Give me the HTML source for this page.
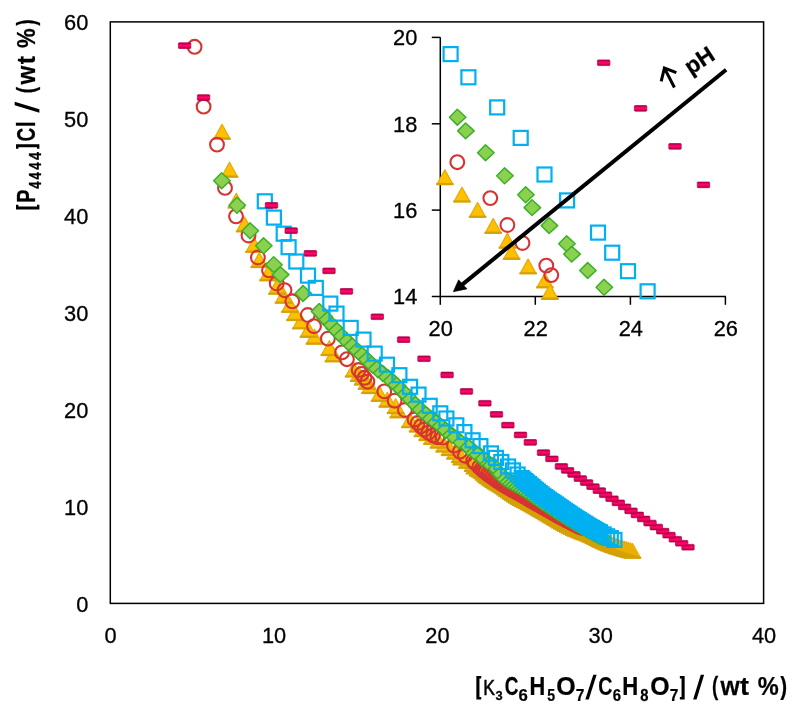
<!DOCTYPE html>
<html><head><meta charset="utf-8"><title>Binodal curves</title>
<style>
html,body{margin:0;padding:0;background:#fff;}
body{width:800px;height:716px;overflow:hidden;font-family:"Liberation Sans",sans-serif;}
svg{display:block;will-change:transform;}
text{font-family:"Liberation Sans",sans-serif;fill:#000;}
.tb{stroke:#D4A106;stroke-width:2.1;fill:none;stroke-linecap:butt;}
</style></head><body>
<svg width="800" height="716" viewBox="0 0 800 716">
<rect x="0" y="0" width="800" height="716" fill="#fff"/>
<defs><linearGradient id="dg" x1="0" y1="0" x2="0" y2="1"><stop offset="0" stop-color="#A2003A"/><stop offset="0.3" stop-color="#EC0060"/><stop offset="0.5" stop-color="#FF0870"/><stop offset="0.7" stop-color="#EC0060"/><stop offset="1" stop-color="#9C0036"/></linearGradient></defs>

<rect x="110.3" y="21.9" width="653.3" height="581.5" fill="none" stroke="#000" stroke-width="1.5"/>
<g font-size="21.8" text-anchor="end" stroke="#000" stroke-width="0.3">
<text x="88.3" y="611.6">0</text>
<text x="88.3" y="514.7">10</text>
<text x="88.3" y="417.8">20</text>
<text x="88.3" y="320.9">30</text>
<text x="88.3" y="223.9">40</text>
<text x="88.3" y="127.0">50</text>
<text x="88.3" y="30.1">60</text>
</g>
<g font-size="21.8" text-anchor="middle" stroke="#000" stroke-width="0.3">
<text x="110.6" y="642.6">0</text>
<text x="274.0" y="642.6">10</text>
<text x="437.4" y="642.6">20</text>
<text x="600.7" y="642.6">30</text>
<text x="764.1" y="642.6">40</text>
</g>
<g id="main"><g fill="#FFC000" stroke="#E6AC06" stroke-width="1.3" stroke-linejoin="round">
<path d="M632.5 543.5L640.0 557.1L625.0 557.1Z"/><path class="tb" d="M623.7 557.8H641.3"/>
<path d="M630.5 543.0L638.0 556.6L623.0 556.6Z"/><path class="tb" d="M621.7 557.3H639.3"/>
<path d="M628.6 542.5L636.1 556.1L621.1 556.1Z"/><path class="tb" d="M619.8 556.8H637.4"/>
<path d="M626.6 541.9L634.1 555.5L619.1 555.5Z"/><path class="tb" d="M617.8 556.3H635.4"/>
<path d="M624.6 541.4L632.1 555.0L617.1 555.0Z"/><path class="tb" d="M615.8 555.7H633.4"/>
<path d="M622.7 540.8L630.2 554.4L615.2 554.4Z"/><path class="tb" d="M613.9 555.1H631.5"/>
<path d="M620.7 540.2L628.2 553.8L613.2 553.8Z"/><path class="tb" d="M611.9 554.5H629.5"/>
<path d="M618.7 539.6L626.2 553.2L611.2 553.2Z"/><path class="tb" d="M609.9 553.9H627.5"/>
<path d="M616.8 538.9L624.3 552.5L609.3 552.5Z"/><path class="tb" d="M608.0 553.3H625.6"/>
<path d="M614.8 538.2L622.3 551.8L607.3 551.8Z"/><path class="tb" d="M606.0 552.6H623.6"/>
<path d="M612.9 537.6L620.4 551.2L605.4 551.2Z"/><path class="tb" d="M604.1 551.9H621.7"/>
<path d="M610.9 536.8L618.4 550.4L603.4 550.4Z"/><path class="tb" d="M602.1 551.2H619.7"/>
<path d="M608.9 536.1L616.4 549.7L601.4 549.7Z"/><path class="tb" d="M600.1 550.4H617.7"/>
<path d="M607.0 535.3L614.5 548.9L599.5 548.9Z"/><path class="tb" d="M598.2 549.6H615.8"/>
<path d="M605.0 534.4L612.5 548.0L597.5 548.0Z"/><path class="tb" d="M596.2 548.7H613.8"/>
<path d="M603.1 533.5L610.6 547.1L595.6 547.1Z"/><path class="tb" d="M594.3 547.8H611.9"/>
<path d="M601.1 532.5L608.6 546.1L593.6 546.1Z"/><path class="tb" d="M592.3 546.9H609.9"/>
<path d="M599.1 531.5L606.6 545.1L591.6 545.1Z"/><path class="tb" d="M590.3 545.9H607.9"/>
<path d="M597.2 530.6L604.7 544.2L589.7 544.2Z"/><path class="tb" d="M588.4 544.9H606.0"/>
<path d="M595.2 529.6L602.7 543.2L587.7 543.2Z"/><path class="tb" d="M586.4 543.9H604.0"/>
<path d="M593.3 528.6L600.8 542.2L585.8 542.2Z"/><path class="tb" d="M584.5 543.0H602.1"/>
<path d="M591.3 527.7L598.8 541.3L583.8 541.3Z"/><path class="tb" d="M582.5 542.0H600.1"/>
<path d="M589.3 526.8L596.8 540.4L581.8 540.4Z"/><path class="tb" d="M580.5 541.2H598.1"/>
<path d="M587.4 526.0L594.9 539.6L579.9 539.6Z"/><path class="tb" d="M578.6 540.3H596.2"/>
<path d="M585.4 525.2L592.9 538.8L577.9 538.8Z"/><path class="tb" d="M576.6 539.6H594.2"/>
<path d="M583.5 524.5L591.0 538.1L576.0 538.1Z"/><path class="tb" d="M574.7 538.8H592.3"/>
<path d="M581.5 523.7L589.0 537.3L574.0 537.3Z"/><path class="tb" d="M572.7 538.1H590.3"/>
<path d="M579.5 523.0L587.0 536.6L572.0 536.6Z"/><path class="tb" d="M570.7 537.3H588.3"/>
<path d="M577.6 522.2L585.1 535.8L570.1 535.8Z"/><path class="tb" d="M568.8 536.5H586.4"/>
<path d="M575.6 521.3L583.1 534.9L568.1 534.9Z"/><path class="tb" d="M566.8 535.7H584.4"/>
<path d="M573.7 520.4L581.2 534.0L566.2 534.0Z"/><path class="tb" d="M564.9 534.8H582.5"/>
<path d="M571.7 519.5L579.2 533.1L564.2 533.1Z"/><path class="tb" d="M562.9 533.8H580.5"/>
<path d="M569.7 518.5L577.2 532.1L562.2 532.1Z"/><path class="tb" d="M560.9 532.8H578.5"/>
<path d="M567.8 517.5L575.3 531.1L560.3 531.1Z"/><path class="tb" d="M559.0 531.8H576.6"/>
<path d="M565.8 516.4L573.3 530.0L558.3 530.0Z"/><path class="tb" d="M557.0 530.8H574.6"/>
<path d="M563.9 515.4L571.4 529.0L556.4 529.0Z"/><path class="tb" d="M555.1 529.7H572.7"/>
<path d="M561.9 514.2L569.4 527.8L554.4 527.8Z"/><path class="tb" d="M553.1 528.6H570.7"/>
<path d="M559.9 513.1L567.4 526.7L552.4 526.7Z"/><path class="tb" d="M551.1 527.5H568.7"/>
<path d="M558.0 511.9L565.5 525.5L550.5 525.5Z"/><path class="tb" d="M549.2 526.3H566.8"/>
<path d="M556.0 510.8L563.5 524.4L548.5 524.4Z"/><path class="tb" d="M547.2 525.1H564.8"/>
<path d="M554.1 509.6L561.6 523.2L546.6 523.2Z"/><path class="tb" d="M545.3 523.9H562.9"/>
<path d="M552.1 508.4L559.6 522.0L544.6 522.0Z"/><path class="tb" d="M543.3 522.8H560.9"/>
<path d="M550.1 507.3L557.6 520.9L542.6 520.9Z"/><path class="tb" d="M541.3 521.6H558.9"/>
<path d="M548.2 506.1L555.7 519.7L540.7 519.7Z"/><path class="tb" d="M539.4 520.4H557.0"/>
<path d="M546.2 504.9L553.7 518.5L538.7 518.5Z"/><path class="tb" d="M537.4 519.3H555.0"/>
<path d="M544.3 503.8L551.8 517.4L536.8 517.4Z"/><path class="tb" d="M535.5 518.1H553.1"/>
<path d="M542.3 502.6L549.8 516.2L534.8 516.2Z"/><path class="tb" d="M533.5 517.0H551.1"/>
<path d="M540.3 501.5L547.8 515.1L532.8 515.1Z"/><path class="tb" d="M531.5 515.8H549.1"/>
<path d="M538.4 500.3L545.9 513.9L530.9 513.9Z"/><path class="tb" d="M529.6 514.7H547.2"/>
<path d="M536.4 499.2L543.9 512.8L528.9 512.8Z"/><path class="tb" d="M527.6 513.5H545.2"/>
<path d="M534.4 498.0L541.9 511.6L526.9 511.6Z"/><path class="tb" d="M525.6 512.4H543.2"/>
<path d="M532.5 496.9L540.0 510.5L525.0 510.5Z"/><path class="tb" d="M523.7 511.3H541.3"/>
<path d="M530.5 495.8L538.0 509.4L523.0 509.4Z"/><path class="tb" d="M521.7 510.2H539.3"/>
<path d="M528.6 494.8L536.1 508.4L521.1 508.4Z"/><path class="tb" d="M519.8 509.2H537.4"/>
<path d="M526.6 493.8L534.1 507.4L519.1 507.4Z"/><path class="tb" d="M517.8 508.1H535.4"/>
<path d="M524.6 492.8L532.1 506.4L517.1 506.4Z"/><path class="tb" d="M515.8 507.1H533.4"/>
<path d="M522.7 491.8L530.2 505.4L515.2 505.4Z"/><path class="tb" d="M513.9 506.1H531.5"/>
<path d="M520.7 490.7L528.2 504.3L513.2 504.3Z"/><path class="tb" d="M511.9 505.0H529.5"/>
<path d="M518.8 489.5L526.3 503.1L511.3 503.1Z"/><path class="tb" d="M510.0 503.9H527.6"/>
<path d="M516.8 488.3L524.3 501.9L509.3 501.9Z"/><path class="tb" d="M508.0 502.7H525.6"/>
<path d="M514.8 487.1L522.3 500.7L507.3 500.7Z"/><path class="tb" d="M506.0 501.4H523.6"/>
<path d="M512.9 485.8L520.4 499.4L505.4 499.4Z"/><path class="tb" d="M504.1 500.1H521.7"/>
<path d="M510.9 484.4L518.4 498.0L503.4 498.0Z"/><path class="tb" d="M502.1 498.8H519.7"/>
<path d="M509.0 483.1L516.5 496.7L501.5 496.7Z"/><path class="tb" d="M500.2 497.4H517.8"/>
<path d="M507.0 481.7L514.5 495.3L499.5 495.3Z"/><path class="tb" d="M498.2 496.0H515.8"/>
<path d="M505.0 480.2L512.5 493.8L497.5 493.8Z"/><path class="tb" d="M496.2 494.5H513.8"/>
<path d="M503.1 478.7L510.6 492.3L495.6 492.3Z"/><path class="tb" d="M494.3 493.1H511.9"/>
<path d="M501.1 477.5L508.6 491.1L493.6 491.1Z"/><path class="tb" d="M492.3 491.8H509.9"/>
<path d="M499.2 476.3L506.7 489.9L491.7 489.9Z"/><path class="tb" d="M490.4 490.6H508.0"/>
<path d="M497.2 475.1L504.7 488.7L489.7 488.7Z"/><path class="tb" d="M488.4 489.5H506.0"/>
<path d="M495.2 473.9L502.7 487.5L487.7 487.5Z"/><path class="tb" d="M486.4 488.3H504.0"/>
<path d="M493.3 472.6L500.8 486.2L485.8 486.2Z"/><path class="tb" d="M484.5 487.0H502.1"/>
<path d="M491.3 471.4L498.8 485.0L483.8 485.0Z"/><path class="tb" d="M482.5 485.7H500.1"/>
<path d="M489.4 470.1L496.9 483.7L481.9 483.7Z"/><path class="tb" d="M480.6 484.4H498.2"/>
<path d="M487.4 468.7L494.9 482.3L479.9 482.3Z"/><path class="tb" d="M478.6 483.0H496.2"/>
<path d="M485.4 467.1L492.9 480.7L477.9 480.7Z"/><path class="tb" d="M476.6 481.5H494.2"/>
<path d="M483.5 465.3L491.0 478.9L476.0 478.9Z"/><path class="tb" d="M474.7 479.6H492.3"/>
<path d="M481.5 463.5L489.0 477.1L474.0 477.1Z"/><path class="tb" d="M472.7 477.8H490.3"/>
<path d="M479.6 462.2L487.1 475.8L472.1 475.8Z"/><path class="tb" d="M470.8 476.5H488.4"/>
<path d="M477.6 461.2L485.1 474.8L470.1 474.8Z"/><path class="tb" d="M468.8 475.5H486.4"/>
<path d="M474.5 459.1L482.0 472.7L467.0 472.7Z"/><path class="tb" d="M465.7 473.5H483.3"/>
<path d="M472.7 456.6L480.2 470.2L465.2 470.2Z"/><path class="tb" d="M463.9 470.9H481.5"/>
<path d="M467.0 453.4L474.5 467.0L459.5 467.0Z"/><path class="tb" d="M458.2 467.8H475.8"/>
<path d="M461.3 450.2L468.8 463.8L453.8 463.8Z"/><path class="tb" d="M452.5 464.5H470.1"/>
<path d="M459.9 447.6L467.4 461.2L452.4 461.2Z"/><path class="tb" d="M451.1 462.0H468.7"/>
<path d="M455.0 444.3L462.5 457.9L447.5 457.9Z"/><path class="tb" d="M446.2 458.7H463.8"/>
<path d="M449.6 440.7L457.1 454.3L442.1 454.3Z"/><path class="tb" d="M440.8 455.1H458.4"/>
<path d="M444.2 437.3L451.7 450.9L436.7 450.9Z"/><path class="tb" d="M435.4 451.6H453.0"/>
<path d="M438.4 433.4L445.9 447.0L430.9 447.0Z"/><path class="tb" d="M429.6 447.7H447.2"/>
<path d="M432.0 429.6L439.5 443.2L424.5 443.2Z"/><path class="tb" d="M423.2 443.9H440.8"/>
<path d="M427.2 425.7L434.7 439.3L419.7 439.3Z"/><path class="tb" d="M418.4 440.1H436.0"/>
<path d="M422.5 421.9L430.0 435.5L415.0 435.5Z"/><path class="tb" d="M413.7 436.2H431.3"/>
<path d="M417.6 417.3L425.1 430.9L410.1 430.9Z"/><path class="tb" d="M408.8 431.6H426.4"/>
<path d="M409.9 412.9L417.4 426.5L402.4 426.5Z"/><path class="tb" d="M401.1 427.2H418.7"/>
<path d="M398.2 403.1L405.7 416.7L390.7 416.7Z"/><path class="tb" d="M389.4 417.4H407.0"/>
<path d="M395.6 398.7L403.1 412.3L388.1 412.3Z"/><path class="tb" d="M386.8 413.1H404.4"/>
<path d="M387.3 392.4L394.8 406.0L379.8 406.0Z"/><path class="tb" d="M378.5 406.8H396.1"/>
<path d="M379.6 386.5L387.1 400.1L372.1 400.1Z"/><path class="tb" d="M370.8 400.9H388.4"/>
<path d="M370.0 378.8L377.5 392.4L362.5 392.4Z"/><path class="tb" d="M361.2 393.1H378.8"/>
<path d="M366.5 374.6L374.0 388.2L359.0 388.2Z"/><path class="tb" d="M357.7 388.9H375.3"/>
<path d="M362.6 370.2L370.1 383.8L355.1 383.8Z"/><path class="tb" d="M353.8 384.6H371.4"/>
<path d="M358.7 366.6L366.2 380.2L351.2 380.2Z"/><path class="tb" d="M349.9 380.9H367.5"/>
<path d="M353.6 362.2L361.1 375.8L346.1 375.8Z"/><path class="tb" d="M344.8 376.6H362.4"/>
<path d="M333.4 347.0L340.9 360.6L325.9 360.6Z"/><path class="tb" d="M324.6 361.4H342.2"/>
<path d="M329.3 340.7L336.8 354.3L321.8 354.3Z"/><path class="tb" d="M320.5 355.1H338.1"/>
<path d="M314.4 329.4L321.9 343.0L306.9 343.0Z"/><path class="tb" d="M305.6 343.8H323.2"/>
<path d="M308.5 322.5L316.0 336.1L301.0 336.1Z"/><path class="tb" d="M299.7 336.9H317.3"/>
<path d="M300.9 314.1L308.4 327.7L293.4 327.7Z"/><path class="tb" d="M292.1 328.4H309.7"/>
<path d="M295.0 305.8L302.5 319.4L287.5 319.4Z"/><path class="tb" d="M286.2 320.1H303.8"/>
<path d="M289.9 297.5L297.4 311.1L282.4 311.1Z"/><path class="tb" d="M281.1 311.9H298.7"/>
<path d="M283.5 288.4L291.0 302.0L276.0 302.0Z"/><path class="tb" d="M274.7 302.8H292.3"/>
<path d="M277.0 279.4L284.5 293.0L269.5 293.0Z"/><path class="tb" d="M268.2 293.8H285.8"/>
<path d="M268.0 266.1L275.5 279.7L260.5 279.7Z"/><path class="tb" d="M259.2 280.4H276.8"/>
<path d="M259.3 252.7L266.8 266.3L251.8 266.3Z"/><path class="tb" d="M250.5 267.1H268.1"/>
<path d="M254.0 237.6L261.5 251.2L246.5 251.2Z"/><path class="tb" d="M245.2 251.9H262.8"/>
<path d="M244.6 217.0L252.1 230.6L237.1 230.6Z"/><path class="tb" d="M235.8 231.4H253.4"/>
<path d="M236.3 193.2L243.8 206.8L228.8 206.8Z"/><path class="tb" d="M227.5 207.6H245.1"/>
<path d="M229.5 162.4L237.0 176.0L222.0 176.0Z"/><path class="tb" d="M220.7 176.8H238.3"/>
<path d="M222.0 124.4L229.5 138.0L214.5 138.0Z"/><path class="tb" d="M213.2 138.8H230.8"/>
</g>
<g fill="none" stroke="#D83333" stroke-width="2.1">
<circle cx="581.2" cy="527.7" r="6.9"/>
<circle cx="579.0" cy="526.7" r="6.9"/>
<circle cx="576.9" cy="525.7" r="6.9"/>
<circle cx="574.8" cy="524.6" r="6.9"/>
<circle cx="572.7" cy="523.6" r="6.9"/>
<circle cx="570.6" cy="522.5" r="6.9"/>
<circle cx="568.4" cy="521.5" r="6.9"/>
<circle cx="566.3" cy="520.4" r="6.9"/>
<circle cx="564.2" cy="519.2" r="6.9"/>
<circle cx="562.1" cy="518.1" r="6.9"/>
<circle cx="559.9" cy="517.0" r="6.9"/>
<circle cx="557.8" cy="515.8" r="6.9"/>
<circle cx="555.7" cy="514.6" r="6.9"/>
<circle cx="553.6" cy="513.4" r="6.9"/>
<circle cx="551.4" cy="512.2" r="6.9"/>
<circle cx="549.3" cy="511.0" r="6.9"/>
<circle cx="547.2" cy="509.8" r="6.9"/>
<circle cx="545.1" cy="508.6" r="6.9"/>
<circle cx="542.9" cy="507.4" r="6.9"/>
<circle cx="540.8" cy="506.2" r="6.9"/>
<circle cx="538.7" cy="505.0" r="6.9"/>
<circle cx="536.6" cy="503.8" r="6.9"/>
<circle cx="534.4" cy="502.5" r="6.9"/>
<circle cx="532.3" cy="501.3" r="6.9"/>
<circle cx="530.2" cy="500.1" r="6.9"/>
<circle cx="528.1" cy="498.9" r="6.9"/>
<circle cx="526.0" cy="497.7" r="6.9"/>
<circle cx="523.8" cy="496.4" r="6.9"/>
<circle cx="521.7" cy="495.2" r="6.9"/>
<circle cx="519.6" cy="494.0" r="6.9"/>
<circle cx="517.5" cy="492.8" r="6.9"/>
<circle cx="515.3" cy="491.7" r="6.9"/>
<circle cx="513.2" cy="490.5" r="6.9"/>
<circle cx="511.1" cy="489.3" r="6.9"/>
<circle cx="509.0" cy="488.2" r="6.9"/>
<circle cx="506.8" cy="486.9" r="6.9"/>
<circle cx="504.7" cy="485.7" r="6.9"/>
<circle cx="502.6" cy="484.4" r="6.9"/>
<circle cx="500.5" cy="483.0" r="6.9"/>
<circle cx="498.3" cy="481.6" r="6.9"/>
<circle cx="496.2" cy="480.2" r="6.9"/>
<circle cx="494.1" cy="478.7" r="6.9"/>
<circle cx="492.0" cy="477.2" r="6.9"/>
<circle cx="489.8" cy="475.7" r="6.9"/>
<circle cx="487.7" cy="474.1" r="6.9"/>
<circle cx="485.6" cy="472.5" r="6.9"/>
<circle cx="483.5" cy="470.8" r="6.9"/>
<circle cx="481.4" cy="469.0" r="6.9"/>
<circle cx="479.2" cy="467.1" r="6.9"/>
<circle cx="474.9" cy="462.9" r="6.9"/>
<circle cx="473.2" cy="460.8" r="6.9"/>
<circle cx="465.0" cy="455.7" r="6.9"/>
<circle cx="459.9" cy="451.7" r="6.9"/>
<circle cx="454.0" cy="445.6" r="6.9"/>
<circle cx="442.6" cy="437.6" r="6.9"/>
<circle cx="437.5" cy="437.2" r="6.9"/>
<circle cx="433.0" cy="435.3" r="6.9"/>
<circle cx="428.5" cy="432.6" r="6.9"/>
<circle cx="424.5" cy="429.5" r="6.9"/>
<circle cx="420.9" cy="426.3" r="6.9"/>
<circle cx="417.7" cy="423.0" r="6.9"/>
<circle cx="414.5" cy="419.5" r="6.9"/>
<circle cx="404.9" cy="410.0" r="6.9"/>
<circle cx="394.6" cy="400.7" r="6.9"/>
<circle cx="384.3" cy="391.4" r="6.9"/>
<circle cx="367.4" cy="381.7" r="6.9"/>
<circle cx="364.5" cy="377.8" r="6.9"/>
<circle cx="361.6" cy="373.9" r="6.9"/>
<circle cx="358.7" cy="370.0" r="6.9"/>
<circle cx="346.9" cy="359.2" r="6.9"/>
<circle cx="342.0" cy="352.4" r="6.9"/>
<circle cx="327.9" cy="338.6" r="6.9"/>
<circle cx="314.0" cy="326.2" r="6.9"/>
<circle cx="307.8" cy="315.0" r="6.9"/>
<circle cx="292.3" cy="301.3" r="6.9"/>
<circle cx="284.5" cy="290.2" r="6.9"/>
<circle cx="276.7" cy="283.5" r="6.9"/>
<circle cx="269.0" cy="270.3" r="6.9"/>
<circle cx="257.9" cy="257.5" r="6.9"/>
<circle cx="248.5" cy="235.5" r="6.9"/>
<circle cx="236.0" cy="216.3" r="6.9"/>
<circle cx="225.0" cy="187.9" r="6.9"/>
<circle cx="217.0" cy="144.6" r="6.9"/>
<circle cx="203.6" cy="106.6" r="6.9"/>
<circle cx="194.6" cy="46.8" r="6.9"/>
</g>
<g fill="#8CD050" stroke="#3DB02B" stroke-width="1.5" stroke-linejoin="round">
<path d="M601.8 529.5L610.4 537.4L601.8 545.3L593.9 537.4Z"/>
<path d="M599.1 528.2L607.7 536.1L599.1 544.0L591.2 536.1Z"/>
<path d="M596.5 526.8L605.1 534.7L596.5 542.6L588.6 534.7Z"/>
<path d="M593.9 525.4L602.5 533.3L593.9 541.2L586.0 533.3Z"/>
<path d="M591.3 524.0L599.9 531.9L591.3 539.8L583.4 531.9Z"/>
<path d="M588.7 522.6L597.3 530.5L588.7 538.4L580.8 530.5Z"/>
<path d="M586.1 521.2L594.7 529.1L586.1 537.0L578.2 529.1Z"/>
<path d="M583.5 519.7L592.1 527.6L583.5 535.5L575.6 527.6Z"/>
<path d="M580.8 518.3L589.4 526.2L580.8 534.1L572.9 526.2Z"/>
<path d="M578.2 516.8L586.8 524.7L578.2 532.6L570.3 524.7Z"/>
<path d="M575.6 515.3L584.2 523.2L575.6 531.1L567.7 523.2Z"/>
<path d="M573.0 513.7L581.6 521.6L573.0 529.5L565.1 521.6Z"/>
<path d="M570.4 512.2L579.0 520.1L570.4 528.0L562.5 520.1Z"/>
<path d="M567.8 510.6L576.4 518.5L567.8 526.4L559.9 518.5Z"/>
<path d="M565.2 509.0L573.8 516.9L565.2 524.8L557.3 516.9Z"/>
<path d="M562.5 507.4L571.1 515.3L562.5 523.2L554.6 515.3Z"/>
<path d="M559.9 505.7L568.5 513.6L559.9 521.5L552.0 513.6Z"/>
<path d="M557.3 504.1L565.9 512.0L557.3 519.9L549.4 512.0Z"/>
<path d="M554.7 502.4L563.3 510.3L554.7 518.2L546.8 510.3Z"/>
<path d="M552.1 500.7L560.7 508.6L552.1 516.5L544.2 508.6Z"/>
<path d="M549.5 499.0L558.1 506.9L549.5 514.8L541.6 506.9Z"/>
<path d="M546.9 497.3L555.5 505.2L546.9 513.1L539.0 505.2Z"/>
<path d="M544.3 495.6L552.9 503.5L544.3 511.4L536.4 503.5Z"/>
<path d="M541.6 493.8L550.2 501.7L541.6 509.6L533.7 501.7Z"/>
<path d="M539.0 492.0L547.6 499.9L539.0 507.8L531.1 499.9Z"/>
<path d="M536.4 490.2L545.0 498.1L536.4 506.0L528.5 498.1Z"/>
<path d="M533.8 488.4L542.4 496.3L533.8 504.2L525.9 496.3Z"/>
<path d="M531.2 486.6L539.8 494.5L531.2 502.4L523.3 494.5Z"/>
<path d="M528.6 484.8L537.2 492.7L528.6 500.6L520.7 492.7Z"/>
<path d="M526.0 483.0L534.6 490.9L526.0 498.8L518.1 490.9Z"/>
<path d="M523.3 481.2L531.9 489.1L523.3 497.0L515.4 489.1Z"/>
<path d="M520.7 479.6L529.3 487.5L520.7 495.4L512.8 487.5Z"/>
<path d="M518.1 478.0L526.7 485.9L518.1 493.8L510.2 485.9Z"/>
<path d="M515.5 476.6L524.1 484.5L515.5 492.4L507.6 484.5Z"/>
<path d="M512.9 475.2L521.5 483.1L512.9 491.0L505.0 483.1Z"/>
<path d="M510.3 473.8L518.9 481.7L510.3 489.6L502.4 481.7Z"/>
<path d="M507.7 472.3L516.3 480.2L507.7 488.1L499.8 480.2Z"/>
<path d="M505.0 470.6L513.6 478.5L505.0 486.4L497.1 478.5Z"/>
<path d="M502.4 468.7L511.0 476.6L502.4 484.5L494.5 476.6Z"/>
<path d="M499.8 466.4L508.4 474.3L499.8 482.2L491.9 474.3Z"/>
<path d="M497.2 463.1L505.8 471.0L497.2 478.9L489.3 471.0Z"/>
<path d="M493.1 457.7L501.7 465.6L493.1 473.5L485.2 465.6Z"/>
<path d="M487.4 454.0L496.0 461.9L487.4 469.8L479.5 461.9Z"/>
<path d="M482.0 450.3L490.6 458.2L482.0 466.1L474.1 458.2Z"/>
<path d="M480.2 448.0L488.8 455.9L480.2 463.8L472.3 455.9Z"/>
<path d="M474.2 443.9L482.8 451.8L474.2 459.7L466.3 451.8Z"/>
<path d="M468.3 439.9L476.9 447.8L468.3 455.7L460.4 447.8Z"/>
<path d="M466.1 437.0L474.7 444.9L466.1 452.8L458.2 444.9Z"/>
<path d="M458.9 432.7L467.5 440.6L458.9 448.5L451.0 440.6Z"/>
<path d="M452.3 427.5L460.9 435.4L452.3 443.3L444.4 435.4Z"/>
<path d="M445.5 422.6L454.1 430.5L445.5 438.4L437.6 430.5Z"/>
<path d="M442.6 419.6L451.2 427.5L442.6 435.4L434.7 427.5Z"/>
<path d="M436.7 414.6L445.3 422.5L436.7 430.4L428.8 422.5Z"/>
<path d="M431.8 411.0L440.4 418.9L431.8 426.8L423.9 418.9Z"/>
<path d="M426.9 407.4L435.5 415.3L426.9 423.2L419.0 415.3Z"/>
<path d="M422.0 403.3L430.6 411.2L422.0 419.1L414.1 411.2Z"/>
<path d="M417.1 398.7L425.7 406.6L417.1 414.5L409.2 406.6Z"/>
<path d="M412.2 393.7L420.8 401.6L412.2 409.5L404.3 401.6Z"/>
<path d="M407.3 388.5L415.9 396.4L407.3 404.3L399.4 396.4Z"/>
<path d="M402.4 383.3L411.0 391.2L402.4 399.1L394.5 391.2Z"/>
<path d="M397.5 378.2L406.1 386.1L397.5 394.0L389.6 386.1Z"/>
<path d="M392.6 373.6L401.2 381.5L392.6 389.4L384.7 381.5Z"/>
<path d="M387.7 369.5L396.3 377.4L387.7 385.3L379.8 377.4Z"/>
<path d="M382.8 365.6L391.4 373.5L382.8 381.4L374.9 373.5Z"/>
<path d="M377.9 361.8L386.5 369.7L377.9 377.6L370.0 369.7Z"/>
<path d="M373.0 357.6L381.6 365.5L373.0 373.4L365.1 365.5Z"/>
<path d="M368.1 353.2L376.7 361.1L368.1 369.0L360.2 361.1Z"/>
<path d="M363.2 348.5L371.8 356.4L363.2 364.3L355.3 356.4Z"/>
<path d="M358.3 343.8L366.9 351.7L358.3 359.6L350.4 351.7Z"/>
<path d="M353.4 339.3L362.0 347.2L353.4 355.1L345.5 347.2Z"/>
<path d="M348.5 334.8L357.1 342.7L348.5 350.6L340.6 342.7Z"/>
<path d="M343.6 330.2L352.2 338.1L343.6 346.0L335.7 338.1Z"/>
<path d="M338.7 325.3L347.3 333.2L338.7 341.1L330.8 333.2Z"/>
<path d="M333.8 320.0L342.4 327.9L333.8 335.8L325.9 327.9Z"/>
<path d="M328.9 314.5L337.5 322.4L328.9 330.3L321.0 322.4Z"/>
<path d="M324.0 309.0L332.6 316.9L324.0 324.8L316.1 316.9Z"/>
<path d="M319.2 303.5L327.8 311.4L319.2 319.3L311.3 311.4Z"/>
<path d="M303.0 285.6L311.6 293.5L303.0 301.4L295.1 293.5Z"/>
<path d="M280.3 266.7L288.9 274.6L280.3 282.5L272.4 274.6Z"/>
<path d="M273.6 256.8L282.2 264.7L273.6 272.6L265.7 264.7Z"/>
<path d="M263.5 237.9L272.1 245.8L263.5 253.7L255.6 245.8Z"/>
<path d="M250.0 222.9L258.6 230.8L250.0 238.7L242.1 230.8Z"/>
<path d="M236.9 197.4L245.5 205.3L236.9 213.2L229.0 205.3Z"/>
<path d="M221.6 172.8L230.2 180.7L221.6 188.6L213.7 180.7Z"/>
</g>
<g fill="none" stroke="#00B0F0" stroke-width="2.2">
<rect x="607.4" y="532.9" width="14.0" height="14.0"/>
<rect x="603.8" y="531.1" width="14.0" height="14.0"/>
<rect x="600.2" y="529.3" width="14.0" height="14.0"/>
<rect x="596.6" y="527.4" width="14.0" height="14.0"/>
<rect x="593.0" y="525.5" width="14.0" height="14.0"/>
<rect x="592.0" y="525.0" width="14.0" height="14.0"/>
<rect x="590.2" y="524.0" width="14.0" height="14.0"/>
<rect x="588.4" y="523.0" width="14.0" height="14.0"/>
<rect x="586.6" y="521.9" width="14.0" height="14.0"/>
<rect x="584.8" y="520.9" width="14.0" height="14.0"/>
<rect x="583.0" y="519.9" width="14.0" height="14.0"/>
<rect x="581.2" y="518.8" width="14.0" height="14.0"/>
<rect x="579.4" y="517.7" width="14.0" height="14.0"/>
<rect x="577.6" y="516.6" width="14.0" height="14.0"/>
<rect x="575.8" y="515.5" width="14.0" height="14.0"/>
<rect x="574.0" y="514.4" width="14.0" height="14.0"/>
<rect x="572.2" y="513.2" width="14.0" height="14.0"/>
<rect x="570.4" y="512.1" width="14.0" height="14.0"/>
<rect x="568.6" y="510.9" width="14.0" height="14.0"/>
<rect x="566.8" y="509.7" width="14.0" height="14.0"/>
<rect x="565.0" y="508.6" width="14.0" height="14.0"/>
<rect x="563.2" y="507.4" width="14.0" height="14.0"/>
<rect x="561.4" y="506.1" width="14.0" height="14.0"/>
<rect x="559.6" y="504.9" width="14.0" height="14.0"/>
<rect x="557.8" y="503.7" width="14.0" height="14.0"/>
<rect x="556.0" y="502.5" width="14.0" height="14.0"/>
<rect x="554.2" y="501.2" width="14.0" height="14.0"/>
<rect x="552.4" y="500.0" width="14.0" height="14.0"/>
<rect x="550.6" y="498.7" width="14.0" height="14.0"/>
<rect x="548.9" y="497.5" width="14.0" height="14.0"/>
<rect x="547.1" y="496.3" width="14.0" height="14.0"/>
<rect x="545.3" y="495.1" width="14.0" height="14.0"/>
<rect x="543.5" y="493.9" width="14.0" height="14.0"/>
<rect x="541.7" y="492.6" width="14.0" height="14.0"/>
<rect x="539.9" y="491.4" width="14.0" height="14.0"/>
<rect x="538.1" y="490.1" width="14.0" height="14.0"/>
<rect x="536.3" y="488.8" width="14.0" height="14.0"/>
<rect x="534.5" y="487.4" width="14.0" height="14.0"/>
<rect x="532.7" y="486.1" width="14.0" height="14.0"/>
<rect x="530.9" y="484.6" width="14.0" height="14.0"/>
<rect x="529.1" y="483.2" width="14.0" height="14.0"/>
<rect x="527.3" y="481.7" width="14.0" height="14.0"/>
<rect x="525.5" y="480.1" width="14.0" height="14.0"/>
<rect x="523.7" y="478.6" width="14.0" height="14.0"/>
<rect x="521.9" y="477.1" width="14.0" height="14.0"/>
<rect x="520.1" y="475.6" width="14.0" height="14.0"/>
<rect x="518.3" y="474.1" width="14.0" height="14.0"/>
<rect x="516.5" y="472.6" width="14.0" height="14.0"/>
<rect x="514.7" y="471.0" width="14.0" height="14.0"/>
<rect x="510.6" y="467.5" width="14.0" height="14.0"/>
<rect x="505.9" y="463.4" width="14.0" height="14.0"/>
<rect x="501.1" y="459.5" width="14.0" height="14.0"/>
<rect x="494.3" y="455.0" width="14.0" height="14.0"/>
<rect x="488.9" y="450.9" width="14.0" height="14.0"/>
<rect x="484.0" y="446.4" width="14.0" height="14.0"/>
<rect x="473.4" y="439.1" width="14.0" height="14.0"/>
<rect x="465.6" y="433.3" width="14.0" height="14.0"/>
<rect x="457.4" y="425.1" width="14.0" height="14.0"/>
<rect x="449.3" y="418.3" width="14.0" height="14.0"/>
<rect x="439.4" y="411.5" width="14.0" height="14.0"/>
<rect x="433.3" y="406.3" width="14.0" height="14.0"/>
<rect x="422.7" y="398.8" width="14.0" height="14.0"/>
<rect x="411.5" y="387.6" width="14.0" height="14.0"/>
<rect x="403.1" y="379.8" width="14.0" height="14.0"/>
<rect x="392.4" y="368.2" width="14.0" height="14.0"/>
<rect x="380.0" y="357.7" width="14.0" height="14.0"/>
<rect x="367.7" y="346.6" width="14.0" height="14.0"/>
<rect x="356.5" y="332.6" width="14.0" height="14.0"/>
<rect x="343.7" y="320.9" width="14.0" height="14.0"/>
<rect x="329.5" y="306.6" width="14.0" height="14.0"/>
<rect x="323.3" y="296.6" width="14.0" height="14.0"/>
<rect x="308.8" y="280.9" width="14.0" height="14.0"/>
<rect x="301.0" y="268.6" width="14.0" height="14.0"/>
<rect x="289.3" y="254.5" width="14.0" height="14.0"/>
<rect x="281.6" y="240.2" width="14.0" height="14.0"/>
<rect x="276.7" y="226.7" width="14.0" height="14.0"/>
<rect x="266.9" y="210.6" width="14.0" height="14.0"/>
<rect x="257.8" y="194.3" width="14.0" height="14.0"/>
</g>
<g fill="url(#dg)" stroke="#B40046" stroke-width="0.7">
<rect x="681.8" y="544.4" width="12.4" height="5.7" rx="0.8"/>
<rect x="675.5" y="540.4" width="12.4" height="5.7" rx="0.8"/>
<rect x="669.1" y="536.4" width="12.4" height="5.7" rx="0.8"/>
<rect x="662.8" y="532.3" width="12.4" height="5.7" rx="0.8"/>
<rect x="656.5" y="528.3" width="12.4" height="5.7" rx="0.8"/>
<rect x="650.1" y="524.2" width="12.4" height="5.7" rx="0.8"/>
<rect x="643.8" y="520.2" width="12.4" height="5.7" rx="0.8"/>
<rect x="637.5" y="516.1" width="12.4" height="5.7" rx="0.8"/>
<rect x="631.1" y="512.1" width="12.4" height="5.7" rx="0.8"/>
<rect x="624.8" y="508.0" width="12.4" height="5.7" rx="0.8"/>
<rect x="618.4" y="504.0" width="12.4" height="5.7" rx="0.8"/>
<rect x="612.1" y="500.0" width="12.4" height="5.7" rx="0.8"/>
<rect x="605.8" y="495.9" width="12.4" height="5.7" rx="0.8"/>
<rect x="599.4" y="491.9" width="12.4" height="5.7" rx="0.8"/>
<rect x="593.1" y="487.8" width="12.4" height="5.7" rx="0.8"/>
<rect x="586.8" y="483.8" width="12.4" height="5.7" rx="0.8"/>
<rect x="580.4" y="479.7" width="12.4" height="5.7" rx="0.8"/>
<rect x="574.1" y="475.7" width="12.4" height="5.7" rx="0.8"/>
<rect x="567.8" y="471.6" width="12.4" height="5.7" rx="0.8"/>
<rect x="561.4" y="467.6" width="12.4" height="5.7" rx="0.8"/>
<rect x="555.2" y="463.6" width="12.4" height="5.7" rx="0.8"/>
<rect x="545.7" y="456.0" width="12.4" height="5.7" rx="0.8"/>
<rect x="537.3" y="449.8" width="12.4" height="5.7" rx="0.8"/>
<rect x="524.1" y="439.5" width="12.4" height="5.7" rx="0.8"/>
<rect x="514.3" y="432.1" width="12.4" height="5.7" rx="0.8"/>
<rect x="501.7" y="422.3" width="12.4" height="5.7" rx="0.8"/>
<rect x="490.3" y="411.5" width="12.4" height="5.7" rx="0.8"/>
<rect x="478.7" y="400.4" width="12.4" height="5.7" rx="0.8"/>
<rect x="460.3" y="388.6" width="12.4" height="5.7" rx="0.8"/>
<rect x="440.9" y="372.1" width="12.4" height="5.7" rx="0.8"/>
<rect x="417.8" y="355.9" width="12.4" height="5.7" rx="0.8"/>
<rect x="397.4" y="336.8" width="12.4" height="5.7" rx="0.8"/>
<rect x="371.1" y="313.9" width="12.4" height="5.7" rx="0.8"/>
<rect x="340.3" y="288.5" width="12.4" height="5.7" rx="0.8"/>
<rect x="322.8" y="268.0" width="12.4" height="5.7" rx="0.8"/>
<rect x="304.2" y="250.5" width="12.4" height="5.7" rx="0.8"/>
<rect x="285.0" y="227.8" width="12.4" height="5.7" rx="0.8"/>
<rect x="265.3" y="202.5" width="12.4" height="5.7" rx="0.8"/>
<rect x="197.4" y="94.7" width="12.4" height="5.7" rx="0.8"/>
<rect x="178.4" y="42.8" width="12.4" height="5.7" rx="0.8"/>
</g></g>
<g stroke="#000" stroke-width="1.5" fill="none">
<path d="M440.3 37.2V296.4H726"/>
<path d="M431.8 296.5H440.3"/>
<path d="M431.8 210.1H440.3"/>
<path d="M431.8 123.8H440.3"/>
<path d="M431.8 37.4H440.3"/>
<path d="M440.3 296.4V304.8"/>
<path d="M535.3 296.4V304.8"/>
<path d="M630.4 296.4V304.8"/>
<path d="M725.4 296.4V304.8"/>
</g>
<g font-size="21.8" text-anchor="end" stroke="#000" stroke-width="0.3">
<text x="417.3" y="304.3">14</text>
<text x="417.3" y="217.9">16</text>
<text x="417.3" y="131.6">18</text>
<text x="417.3" y="45.2">20</text>
</g>
<g font-size="21.8" text-anchor="middle" stroke="#000" stroke-width="0.3">
<text x="440.7" y="336.1">20</text>
<text x="535.7" y="336.1">22</text>
<text x="630.8" y="336.1">24</text>
<text x="725.8" y="336.1">26</text>
</g>
<g id="inset"><g fill="#FFC000" stroke="#E6AC06" stroke-width="1.3" stroke-linejoin="round">
<path d="M444.9 169.9L452.4 183.5L437.4 183.5Z"/><path class="tb" d="M436.1 184.2H453.7"/>
<path d="M462.0 187.2L469.5 200.8L454.5 200.8Z"/><path class="tb" d="M453.2 201.6H470.8"/>
<path d="M477.6 202.6L485.1 216.2L470.1 216.2Z"/><path class="tb" d="M468.8 216.9H486.4"/>
<path d="M493.2 218.6L500.7 232.2L485.7 232.2Z"/><path class="tb" d="M484.4 232.9H502.0"/>
<path d="M507.4 233.4L514.9 247.0L499.9 247.0Z"/><path class="tb" d="M498.6 247.8H516.2"/>
<path d="M511.6 244.6L519.1 258.2L504.1 258.2Z"/><path class="tb" d="M502.8 258.9H520.4"/>
<path d="M528.1 259.1L535.6 272.7L520.6 272.7Z"/><path class="tb" d="M519.3 273.4H536.9"/>
<path d="M544.9 273.1L552.4 286.7L537.4 286.7Z"/><path class="tb" d="M536.1 287.4H553.7"/>
<path d="M549.9 284.5L557.4 298.1L542.4 298.1Z"/><path class="tb" d="M541.1 298.9H558.7"/>
</g>
<g fill="none" stroke="#D83333" stroke-width="2.1">
<circle cx="457.3" cy="162.2" r="6.9"/>
<circle cx="490.3" cy="198.1" r="6.9"/>
<circle cx="507.4" cy="225.0" r="6.9"/>
<circle cx="522.5" cy="243.0" r="6.9"/>
<circle cx="546.3" cy="265.6" r="6.9"/>
<circle cx="551.3" cy="275.1" r="6.9"/>
</g>
<g fill="#8CD050" stroke="#3DB02B" stroke-width="1.5" stroke-linejoin="round">
<path d="M457.3 109.3L465.9 117.2L457.3 125.1L449.4 117.2Z"/>
<path d="M465.6 123.0L474.2 130.9L465.6 138.8L457.7 130.9Z"/>
<path d="M485.5 144.8L494.1 152.7L485.5 160.6L477.6 152.7Z"/>
<path d="M504.6 167.9L513.2 175.8L504.6 183.7L496.7 175.8Z"/>
<path d="M525.6 186.9L534.2 194.8L525.6 202.7L517.7 194.8Z"/>
<path d="M532.0 199.7L540.6 207.6L532.0 215.5L524.1 207.6Z"/>
<path d="M549.1 217.7L557.7 225.6L549.1 233.5L541.2 225.6Z"/>
<path d="M566.6 235.9L575.2 243.8L566.6 251.7L558.7 243.8Z"/>
<path d="M571.7 246.2L580.3 254.1L571.7 262.0L563.8 254.1Z"/>
<path d="M587.6 262.6L596.2 270.5L587.6 278.4L579.7 270.5Z"/>
<path d="M604.0 279.4L612.6 287.3L604.0 295.2L596.1 287.3Z"/>
</g>
<g fill="none" stroke="#00B0F0" stroke-width="2.2">
<rect x="443.6" y="47.1" width="14.0" height="14.0"/>
<rect x="461.4" y="70.3" width="14.0" height="14.0"/>
<rect x="490.2" y="100.4" width="14.0" height="14.0"/>
<rect x="513.7" y="130.9" width="14.0" height="14.0"/>
<rect x="537.5" y="167.5" width="14.0" height="14.0"/>
<rect x="560.1" y="193.4" width="14.0" height="14.0"/>
<rect x="591.0" y="225.6" width="14.0" height="14.0"/>
<rect x="605.2" y="245.7" width="14.0" height="14.0"/>
<rect x="621.0" y="264.2" width="14.0" height="14.0"/>
<rect x="640.6" y="284.3" width="14.0" height="14.0"/>
</g>
<g fill="url(#dg)" stroke="#B40046" stroke-width="0.7">
<rect x="597.5" y="59.9" width="12.4" height="5.7" rx="0.8"/>
<rect x="634.4" y="105.5" width="12.4" height="5.7" rx="0.8"/>
<rect x="668.8" y="143.5" width="12.4" height="5.7" rx="0.8"/>
<rect x="697.3" y="182.0" width="12.4" height="5.7" rx="0.8"/>
</g></g>
<g id="arrow"><path d="M726.1 69.7L461.0 285.6" stroke="#000" stroke-width="4" fill="none"/><path d="M453.3 291.7L458.6 279.8L467.0 288.9Z" fill="#000" stroke="#000" stroke-width="0.6" stroke-linejoin="miter"/></g>
<path d="M674.4 87.5L664.4 68.1M661.2 81.3L664.4 68.1L676.4 72.6" stroke="#000" stroke-width="3" fill="none" stroke-linejoin="miter"/>
<path transform="translate(690.7,75.3) rotate(-33)" d="M13.11 -6.13Q13.11 -3.09 11.89 -1.43Q10.67 0.22 8.45 0.22Q7.17 0.22 6.22 -0.33Q5.27 -0.89 4.76 -1.93H4.69Q4.76 -1.59 4.76 0.11V4.77H1.61V-9.35Q1.61 -11.07 1.52 -12.15H4.58Q4.64 -11.95 4.68 -11.35Q4.72 -10.76 4.72 -10.17H4.76Q5.83 -12.41 8.65 -12.41Q10.77 -12.41 11.94 -10.78Q13.11 -9.14 13.11 -6.13ZM9.82 -6.13Q9.82 -10.22 7.31 -10.22Q6.05 -10.22 5.39 -9.12Q4.72 -8.02 4.72 -6.04Q4.72 -4.08 5.39 -3.00Q6.05 -1.93 7.29 -1.93Q9.82 -1.93 9.82 -6.13Z M25.80 0.00V-6.78H18.90V0.00H15.59V-15.82H18.90V-9.52H25.80V-15.82H29.11V0.00Z" fill="#000" stroke="#000" stroke-width="0.35"/>
<g id="ytitle" transform="translate(34.9,209.9) rotate(-90)"><path d="M5.05 -18.90H0.35V4.50H5.05V2.10H3.45V-16.50H5.05Z"/><text transform="translate(7.03,0.00) scale(0.782,1)" font-size="25.3" font-weight="bold" stroke="#000" stroke-width="0.25">P</text><text transform="translate(21.25,5.90) scale(0.780,1)" font-size="17.0" font-weight="bold" stroke="#000" stroke-width="0.25">4</text><text transform="translate(30.35,5.90) scale(0.780,1)" font-size="17.0" font-weight="bold" stroke="#000" stroke-width="0.25">4</text><text transform="translate(40.04,5.90) scale(0.802,1)" font-size="17.0" font-weight="bold" stroke="#000" stroke-width="0.25">4</text><text transform="translate(49.93,5.90) scale(0.846,1)" font-size="17.0" font-weight="bold" stroke="#000" stroke-width="0.25">4</text><path d="M61.05 -18.90H65.75V4.50H61.05V2.10H62.65V-16.50H61.05Z"/><text transform="translate(68.37,0.00) scale(0.750,1)" font-size="25.3" font-weight="bold" stroke="#000" stroke-width="0.25">C</text><text transform="translate(82.78,0.00) scale(0.778,1)" font-size="25.3" font-weight="bold" stroke="#000" stroke-width="0.25">l</text><path d="M104.65 -20.20H108.05L100.65 4.50H97.25Z"/><text transform="translate(116.70,0.00) scale(0.756,1)" font-size="25.3" font-weight="bold" stroke="#000" stroke-width="0.25">(</text><text transform="translate(125.32,0.00) scale(0.954,1)" font-size="25.3" font-weight="bold" stroke="#000" stroke-width="0.25">w</text><text transform="translate(145.75,0.00) scale(0.986,1)" font-size="25.3" font-weight="bold" stroke="#000" stroke-width="0.25">t</text><text transform="translate(162.00,0.00) scale(0.873,1)" font-size="25.3" font-weight="bold" stroke="#000" stroke-width="0.25">%</text><text transform="translate(184.03,0.00) scale(0.756,1)" font-size="25.3" font-weight="bold" stroke="#000" stroke-width="0.25">)</text></g>
<g id="xtitle"><path d="M481.25 676.00H476.35V699.40H481.25V697.00H479.45V678.40H481.25Z"/><text transform="translate(483.21,694.90) scale(0.808,1)" font-size="21.8" font-weight="normal" stroke="#000" stroke-width="0.5">K</text><text transform="translate(495.55,699.50) scale(0.954,1)" font-size="13.5" font-weight="bold" stroke="#000" stroke-width="0.25">3</text><text transform="translate(504.87,694.90) scale(0.750,1)" font-size="25.3" font-weight="bold" stroke="#000" stroke-width="0.25">C</text><text transform="translate(518.54,700.80) scale(0.986,1)" font-size="17.0" font-weight="bold" stroke="#000" stroke-width="0.25">6</text><text transform="translate(529.39,694.90) scale(0.861,1)" font-size="25.3" font-weight="bold" stroke="#000" stroke-width="0.25">H</text><text transform="translate(547.22,700.80) scale(0.828,1)" font-size="17.0" font-weight="bold" stroke="#000" stroke-width="0.25">5</text><text transform="translate(556.33,694.90) scale(0.984,1)" font-size="25.3" font-weight="bold" stroke="#000" stroke-width="0.25">O</text><text transform="translate(575.68,700.80) scale(0.915,1)" font-size="17.0" font-weight="bold" stroke="#000" stroke-width="0.25">7</text><path d="M593.25 674.70H596.65L588.75 699.40H585.35Z"/><text transform="translate(598.15,694.90) scale(0.774,1)" font-size="25.3" font-weight="bold" stroke="#000" stroke-width="0.25">C</text><text transform="translate(612.70,700.80) scale(0.876,1)" font-size="17.0" font-weight="bold" stroke="#000" stroke-width="0.25">6</text><text transform="translate(622.27,694.90) scale(0.874,1)" font-size="25.3" font-weight="bold" stroke="#000" stroke-width="0.25">H</text><text transform="translate(640.18,700.80) scale(0.870,1)" font-size="17.0" font-weight="bold" stroke="#000" stroke-width="0.25">8</text><text transform="translate(650.33,694.90) scale(0.984,1)" font-size="25.3" font-weight="bold" stroke="#000" stroke-width="0.25">O</text><text transform="translate(669.68,700.80) scale(0.915,1)" font-size="17.0" font-weight="bold" stroke="#000" stroke-width="0.25">7</text><path d="M679.85 676.00H684.65V699.40H679.85V697.00H681.55V678.40H679.85Z"/><path d="M700.75 674.70H704.15L696.55 699.40H693.15Z"/><text transform="translate(711.91,694.90) scale(0.742,1)" font-size="25.3" font-weight="bold" stroke="#000" stroke-width="0.25">(</text><text transform="translate(720.42,694.90) scale(0.975,1)" font-size="25.3" font-weight="bold" stroke="#000" stroke-width="0.25">w</text><text transform="translate(740.02,694.90) scale(1.063,1)" font-size="25.3" font-weight="bold" stroke="#000" stroke-width="0.25">t</text><text transform="translate(757.76,694.90) scale(0.934,1)" font-size="25.3" font-weight="bold" stroke="#000" stroke-width="0.25">%</text><text transform="translate(780.33,694.90) scale(0.812,1)" font-size="25.3" font-weight="bold" stroke="#000" stroke-width="0.25">)</text></g>
</svg></body></html>
